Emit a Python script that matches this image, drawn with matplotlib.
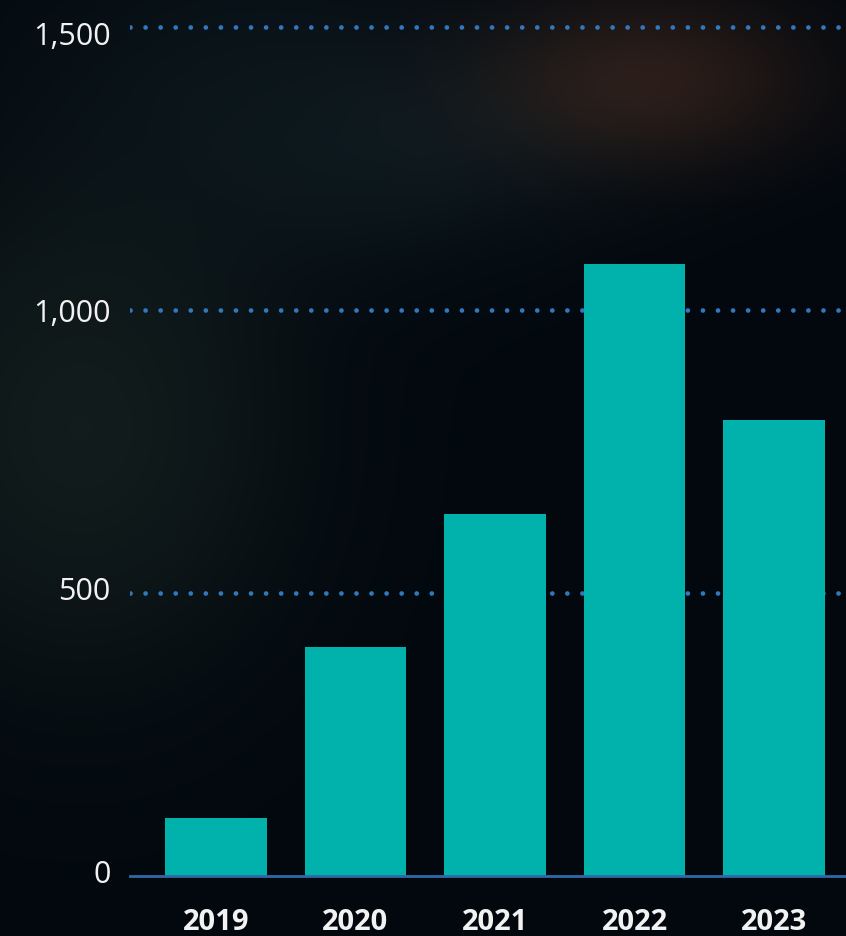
import numpy as np
import matplotlib.pyplot as plt
import matplotlib.transforms as mtransforms

# yearly totals
years = ['2019', '2020', '2021', '2022', '2023']
values = [102, 405, 640, 1082, 806]
yticks = [0, 500, 1000, 1500]

W, H, DPI = 846, 937, 100
plt.rcParams['font.family'] = ['Open Sans', 'DejaVu Sans']

fig = plt.figure(figsize=(W / DPI, H / DPI), dpi=DPI)

# dark backdrop with a few soft glows
yy, xx = np.mgrid[0:H, 0:W].astype(float)
bg = np.zeros((H, W, 3))
bg[:] = np.array([2, 8, 14]) / 255.0


def glow(cx, cy, rx, ry, rgb, strength=1.0):
    g = np.exp(-(((xx - cx) / rx) ** 2 + ((yy - cy) / ry) ** 2))
    return g[..., None] * np.array(rgb)[None, None, :] / 255.0 * strength


bg += glow(250, 60, 240, 170, [6, 9, 9])
bg += glow(650, 80, 170, 90, [40, 20, 10])
bg += glow(80, 430, 220, 260, [16, 20, 14])
bg += glow(420, 160, 190, 110, [7, 11, 11])
bg = np.clip(bg, 0, 1)

bgax = fig.add_axes([0, 0, 1, 1], zorder=-1)
bgax.imshow(bg, aspect='auto', extent=[0, 1, 0, 1], origin='upper')
bgax.axis('off')

# plot area in pixel terms: baseline at y=876, 1500 at y=27
px_per_unit = (876 - 27) / 1500
ytop = 1560
x0, x1 = 130, 846
ax = fig.add_axes([x0 / W, (H - 877) / H, (x1 - x0) / W, ytop * px_per_unit / H])
ax.set_facecolor('none')

x = np.arange(len(years))
ax.bar(x, values, width=0.73, color='#00b2ab', zorder=2)

ax.set_ylim(0, ytop)
ax.set_xlim(-0.617, 4.516)
ax.set_yticks(yticks)
ax.set_yticklabels([f'{v:,}' for v in yticks])
ax.set_xticks(x)
ax.set_xticklabels(years, fontweight='bold')

for s in ['top', 'right', 'left']:
    ax.spines[s].set_visible(False)
ax.spines['bottom'].set_color('#2e6aa8')
ax.spines['bottom'].set_linewidth(2)
ax.spines['bottom'].set_zorder(3)

ax.tick_params(axis='y', length=0, pad=14, labelsize=22, labelcolor='#f2f2f2')
ax.tick_params(axis='x', length=0, pad=22, labelsize=21, labelcolor='#f2f2f2')

# nudge y labels a few pixels relative to their gridlines
nudges = [5, 6, 0, -5]
for lab, dy in zip(ax.get_yticklabels(), nudges):
    shift = mtransforms.ScaledTranslation(0, dy / DPI, fig.dpi_scale_trans)
    lab.set_transform(lab.get_transform() + shift)

for v in yticks[1:]:
    ax.axhline(v, color='#3079c0', lw=3.4, linestyle=(0, (0.01, 3.18)),
               dash_capstyle='round', zorder=1)

fig.savefig('out.png', dpi=DPI)
